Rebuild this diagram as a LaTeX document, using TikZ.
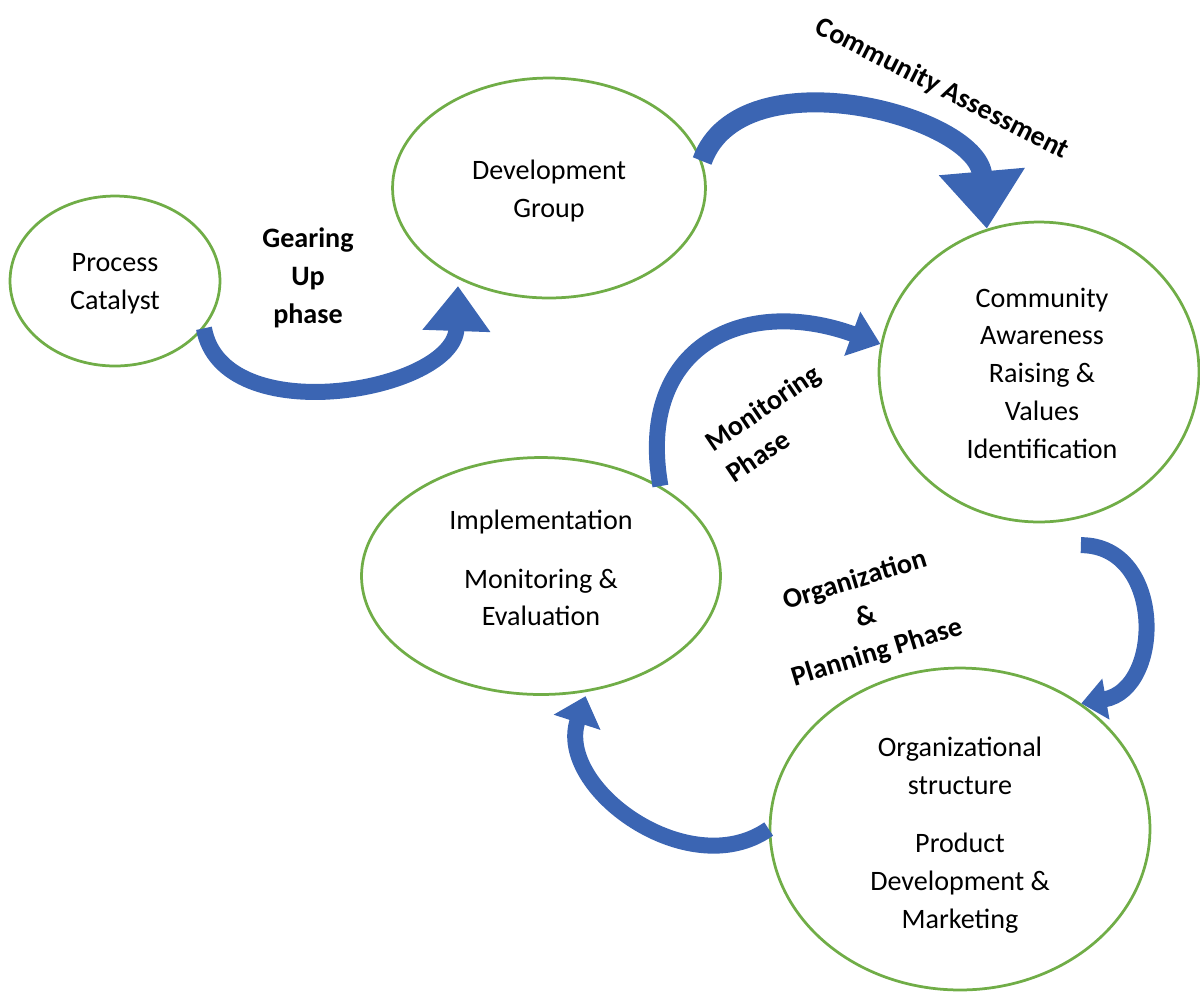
\documentclass[tikz,border=0pt]{standalone}
\usepackage{fontspec}
\setmainfont{Carlito}
\usepackage{tikz}
\usetikzlibrary{arrows.meta,shapes}

\definecolor{ringgreen}{HTML}{70AD47}
\definecolor{arrowblue}{HTML}{3B65B3}

\begin{document}
\begin{tikzpicture}[x=0.02cm,y=0.02cm,
    phase/.style={draw=ringgreen,line width=0.055cm,ellipse,inner sep=0pt},
    txt/.style={align=center,font=\fontsize{16}{21.5}\selectfont},
    lbl/.style={align=center,font=\fontsize{16}{21.5}\selectfont\bfseries},
    flow/.style={draw=arrowblue,line width=0.32cm}]
    \useasboundingbox (0,0) rectangle (1200,-992);

    % the five stages
    \node (pc) [phase,minimum width=4.2cm,minimum height=3.4cm] at (115,-281) {};
    \node (dev) [phase,minimum width=6.26cm,minimum height=4.4cm] at (549,-188) {};
    \node (ca) [phase,minimum width=6.4cm,minimum height=6.0cm] at (1039,-372) {};
    \node (impl) [phase,minimum width=7.18cm,minimum height=4.74cm] at (541,-576) {};
    \node (org) [phase,minimum width=7.6cm,minimum height=6.44cm] at (960,-829) {};

    \node (pcT) [txt] at (115,-284) {Process\\Catalyst};
    \node (devT) [txt] at (549,-191) {Development\\Group};
    \node (caT) [txt] at (1042,-373) {Community\\Awareness\\Raising \&\\Values\\Identification};
    \node (implT) [txt] at (541,-568) {Implementation\\[0.42cm]Monitoring \&\\Evaluation};
    \node (orgT) [txt] at (960,-835)
      {Organizational\\structure\\[0.42cm]Product\\Development \&\\Marketing};

    % phase names
    \node (gear) [lbl] at (308,-278) {Gearing\\Up\\phase};
    \node (cass) [lbl,rotate=-27] at (942,-89) {Community Assessment};
    \node (mon) [lbl,rotate=34,align=left] at (773,-423) {Monitoring\\Phase};
    \node (plan) [lbl,rotate=17] at (866,-617) {Organization\\\&\\Planning Phase};

    % curved arrows
    \draw[flow,-{Triangle[width=1.3cm,length=0.9cm]}] (pc.-28)
      to[out=-80,in=-92,looseness=1.05] ([yshift=-0.14cm]dev.-135);
    \draw[flow,line width=0.4cm,-{Triangle[width=1.65cm,length=1.15cm]}] (dev.10)
      to[out=70,in=95] (ca.110);
    \draw[flow,-{Triangle[width=0.9cm,length=0.6cm]}] (impl.37)
      to[out=100,in=160,looseness=1.4] (ca.170);
    \draw[flow,-{Triangle[width=0.8cm,length=0.5cm]}] ([yshift=-0.54cm]ca.-74)
      to[out=0,in=10,looseness=1.35] (org.46);
    \draw[flow,-{Triangle[width=0.95cm,length=0.55cm]}] (org.180)
      to[out=215,in=-108,looseness=1.1] ([yshift=-0.08cm]impl.-69);

  \end{tikzpicture}
\end{document}
